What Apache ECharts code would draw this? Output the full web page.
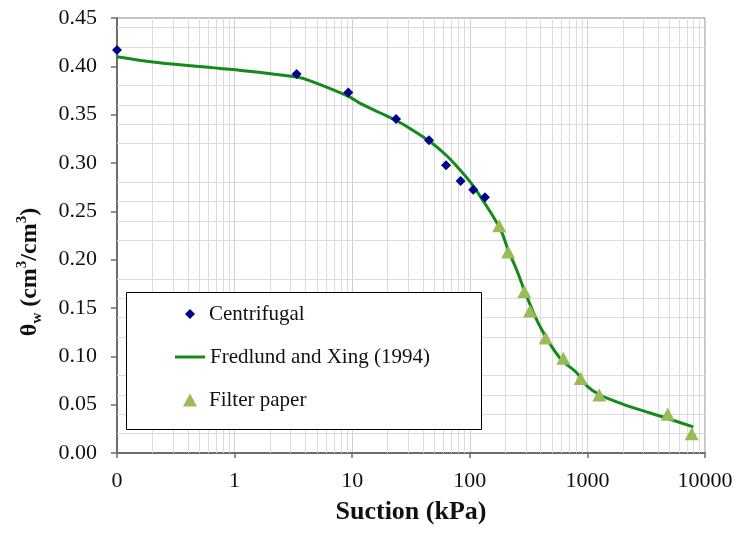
<!DOCTYPE html>
<html>
<head>
<meta charset="utf-8">
<script src="https://cdn.jsdelivr.net/npm/echarts@6/dist/echarts.min.js"></script>
<style>
  html, body { margin: 0; padding: 0; background: #ffffff; }
  #chart { width: 736px; height: 536px; }
</style>
</head>
<body>
<div id="chart"></div>
<script>
// Soil-water characteristic curve: measured water content vs. suction
const suctionCentrifugal = [0.1, 3.37, 9.27, 23.6, 45.0, 62.8, 83.6, 107, 134.6];
const thetaCentrifugal   = [0.417, 0.392, 0.373, 0.3455, 0.3235, 0.2976, 0.2814, 0.2724, 0.2645];

const suctionFilter = [178, 212, 291, 325, 442, 624, 877, 1262, 4819, 7709];
const thetaFilter   = [0.235, 0.208, 0.167, 0.147, 0.119, 0.098, 0.077, 0.060, 0.040, 0.020];

// Fredlund & Xing (1994) fitted curve
const suctionFit = [0.1, 0.22, 0.91, 3.37, 4.4, 9.3, 11.6, 17.2, 23.6, 28, 46, 63, 77, 100, 122, 181, 212, 251, 305, 395, 585, 811, 1000, 1280, 1600, 2300, 4720, 7940];
const thetaFit   = [0.410, 0.404, 0.397, 0.389, 0.385, 0.369, 0.362, 0.352, 0.344, 0.339, 0.322, 0.308, 0.297, 0.281, 0.266, 0.232, 0.210, 0.189, 0.162, 0.131, 0.098, 0.083, 0.069, 0.060, 0.055, 0.048, 0.036, 0.027];

const xTickLabels = ['0', '1', '10', '100', '1000', '10000'];
const yTickLabels = ['0.00', '0.05', '0.10', '0.15', '0.20', '0.25', '0.30', '0.35', '0.40', '0.45'];

const seriesNames = ['Centrifugal', 'Fredlund and Xing (1994)', 'Filter paper'];

// Minor gridlines: 2..9 within every decade, and every 0.02 on the water-content axis
const xMinorGrid = [];
for (let e = -1; e < 4; e++) {
  for (let m = 2; m <= 9; m++) xMinorGrid.push(m * Math.pow(10, e));
}
const yMinorGrid = [];
for (let k = 1; k <= 22; k++) {
  if (k % 5 !== 0) yMinorGrid.push(+(k * 0.02).toFixed(2));
}

const FONT = '"Liberation Serif", "Times New Roman", serif';
const AXIS_GREY = '#6e6e6e';
const FIT_GREEN = '#138a1a';

const zip = (xs, ys) => xs.map((x, i) => [x, ys[i]]);

// One legend block per entry so each icon keeps its own size; text lines up at x = 209
function legendFor(name, icon, left, top, iconW, iconH, textShift) {
  return {
    data: [{ name: name, icon: icon }],
    left: left,
    top: top,
    orient: 'vertical',
    padding: 0,
    itemWidth: iconW,
    itemHeight: iconH,
    itemGap: 0,
    selectedMode: false,
    z: 6,
    lineStyle: { width: 3 },
    textStyle: {
      fontFamily: FONT, fontSize: 21, color: '#111', lineHeight: 24,
      padding: [0, 0, 0, textShift]
    }
  };
}

const chart = echarts.init(document.getElementById('chart'), null, { renderer: 'canvas' });

chart.setOption({
  animation: false,
  backgroundColor: '#ffffff',
  grid: {
    left: 117, right: 31, top: 18, bottom: 83,
    show: true, borderColor: '#8a8a8a', borderWidth: 1,
    backgroundColor: 'transparent'
  },
  xAxis: {
    type: 'log',
    logBase: 10,
    min: 0.1,
    max: 10000,
    axisLine: { show: true, onZero: false, lineStyle: { color: AXIS_GREY, width: 2 } },
    axisTick: { show: true, length: 5, lineStyle: { color: AXIS_GREY, width: 1.5 } },
    axisLabel: {
      margin: 17,
      fontFamily: FONT, fontSize: 22, color: '#111',
      formatter: v => xTickLabels[Math.round(Math.log10(v)) + 1]
    },
    splitLine: { show: true, lineStyle: { color: '#d0d0d0', width: 1 } },
    name: 'Suction (kPa)',
    nameLocation: 'middle',
    nameGap: 46,
    nameTextStyle: { fontFamily: FONT, fontSize: 26, fontWeight: 'bold', color: '#111' }
  },
  yAxis: {
    type: 'value',
    min: 0,
    max: 0.45,
    interval: 0.05,
    axisLine: { show: true, onZero: false, lineStyle: { color: AXIS_GREY, width: 2 } },
    axisTick: { show: true, length: 6, lineStyle: { color: AXIS_GREY, width: 1.5 } },
    axisLabel: {
      margin: 20,
      fontFamily: FONT, fontSize: 22, color: '#111',
      formatter: v => yTickLabels[Math.round(v / 0.05)]
    },
    splitLine: { show: false },
    name: '{t|θ}{s|w}{t| (cm}{p|3}{t|/cm}{p|3}{t|)}',
    nameLocation: 'middle',
    nameRotate: 90,
    nameGap: 72,
    nameTextStyle: {
      padding: [0, 73, 0, 0],
      rich: {
        t: { fontFamily: FONT, fontSize: 24, fontWeight: 'bold', color: '#111', lineHeight: 30 },
        s: { fontFamily: FONT, fontSize: 15, fontWeight: 'bold', color: '#111', lineHeight: 14, verticalAlign: 'bottom' },
        p: { fontFamily: FONT, fontSize: 15, fontWeight: 'bold', color: '#111', lineHeight: 14, verticalAlign: 'top' }
      }
    }
  },
  legend: [
    legendFor(seriesNames[0], 'diamond', 185, 302, 10, 10, 9),
    legendFor(seriesNames[1], 'rect', 175, 345, 30, 3, 0),
    legendFor(seriesNames[2], 'triangle', 183, 388, 14, 13, 7)
  ],
  graphic: [
    {
      type: 'rect',
      z: 5,
      silent: true,
      shape: { x: 126.5, y: 292.5, width: 355, height: 137 },
      style: { fill: '#ffffff', stroke: '#000000', lineWidth: 1 }
    }
  ],
  series: [
    {
      // gridline carrier
      name: 'grid',
      type: 'line',
      data: [],
      z: 1,
      silent: true,
      markLine: {
        z: 1,
        silent: true,
        animation: false,
        symbol: ['none', 'none'],
        label: { show: false },
        emphasis: { disabled: true },
        lineStyle: { color: '#dcdcdc', width: 1, type: 'solid' },
        data: xMinorGrid.map(v => ({ xAxis: v })).concat(yMinorGrid.map(v => ({ yAxis: v })))
      }
    },
    {
      name: seriesNames[1],
      type: 'line',
      data: zip(suctionFit, thetaFit),
      smooth: 0.4,
      symbol: 'none',
      z: 3,
      lineStyle: { color: FIT_GREEN, width: 3 },
      itemStyle: { color: FIT_GREEN }
    },
    {
      name: seriesNames[0],
      type: 'scatter',
      data: zip(suctionCentrifugal, thetaCentrifugal),
      symbol: 'diamond',
      symbolSize: 10,
      z: 4,
      itemStyle: { color: '#00008b', opacity: 1 }
    },
    {
      name: seriesNames[2],
      type: 'scatter',
      data: zip(suctionFilter, thetaFilter),
      symbol: 'triangle',
      symbolSize: [14, 13],
      z: 4,
      itemStyle: { color: '#9bbb59', opacity: 1 }
    }
  ]
});
</script>
</body>
</html>
